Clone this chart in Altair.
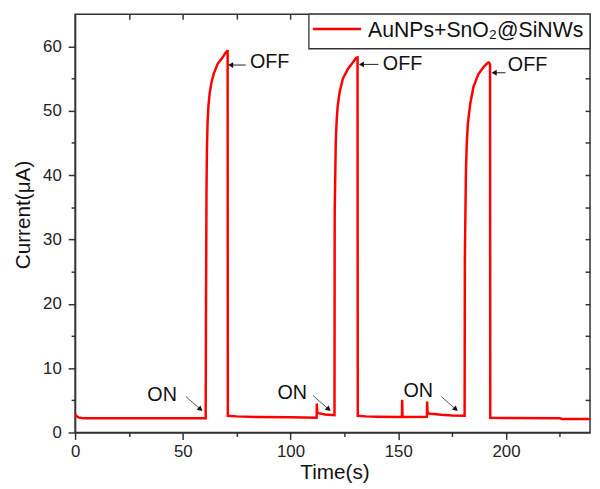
import altair as alt
import pandas as pd

# ---- data ----
time_s = [0, 0.5, 1.5, 3, 5, 30, 60.6,
          60.8, 61.0, 61.2, 61.5, 61.9, 62.5, 63.3, 64.4, 66.2, 68.5, 70.0, 70.6, 70.8,
          70.9, 75, 85, 100, 112.1,
          112.2, 112.4, 113, 116, 120.4,
          120.5, 121.0, 121.4, 121.9, 122.8, 124.3, 126.6, 128.9, 130.4, 131.1,
          131.2, 135, 140, 151.7,
          151.8, 152.0, 163.3,
          163.4, 163.6, 165, 170, 175, 180.8,
          180.9, 181.4, 181.8, 182.3, 183.4, 184.9, 187.2, 189.6, 191.4, 192.0, 192.6,
          192.7, 200, 225, 226, 239]
current_uA = [2.9, 2.6, 2.35, 2.25, 2.2, 2.2, 2.2,
              22.4, 37.8, 44.0, 48.2, 50.8, 52.8, 54.4, 55.8, 57.3, 58.3, 59.1, 59.3, 59.3,
              2.6, 2.5, 2.4, 2.35, 2.3,
              4.5, 3.1, 3.0, 2.8, 2.7,
              34.5, 45.2, 48.5, 50.8, 52.9, 55.0, 56.5, 57.5, 58.2, 58.3,
              2.6, 2.5, 2.45, 2.4,
              5.1, 2.4, 2.45,
              4.8, 3.0, 2.9, 2.75, 2.65, 2.6,
              27.0, 40.4, 45.0, 48.0, 51.1, 53.7, 55.7, 56.8, 57.4, 57.5, 57.2,
              2.3, 2.25, 2.2, 2.1, 2.1]

on_text_t = [40.4, 100.8, 159.3]
on_text_v = [5.75, 6.06, 6.5]
on_arrow_t1 = [51.4, 110.4, 169.9]
on_arrow_v1 = [5.6, 5.75, 5.6]
on_arrow_t2 = [58.2, 117.7, 176.7]
on_arrow_v2 = [3.6, 3.6, 3.6]

off_text_t = [90.3, 152.0, 210.0]
off_text_v = [57.6, 57.3, 57.1]
off_arrow_t1 = [79.2, 140.8, 199.8]
off_arrow_t2 = [72.2, 132.9, 194.5]
off_arrow_v = [57.1, 57.2, 55.9]

x_major = [0, 50, 100, 150, 200]
x_minor = [25, 75, 125, 175, 225]
x_mirror = [25, 50, 75, 100, 125, 150, 175, 200, 225]
y_major = [0, 10, 20, 30, 40, 50, 60]
y_minor = [5, 15, 25, 35, 45, 55]
y_mirror = [5, 10, 15, 20, 25, 30, 35, 40, 45, 50, 55, 60]

series_label = "AuNPs+SnO\u2082@SiNWs"
x_title = "Time(s)"
y_title = "Current(\u03bcA)"

# ---- tables ----
df = pd.DataFrame({"i": list(range(len(time_s))), "t": time_s, "I": current_uA})
on_df = pd.DataFrame({"t": on_text_t, "v": on_text_v, "lab": ["ON"] * 3})
off_df = pd.DataFrame({"t": off_text_t, "v": off_text_v, "lab": ["OFF"] * 3})
on_arr = pd.DataFrame({"t1": on_arrow_t1, "v1": on_arrow_v1, "t2": on_arrow_t2, "v2": on_arrow_v2})
off_arr = pd.DataFrame({"t1": off_arrow_t1, "t2": off_arrow_t2, "v": off_arrow_v})
one = pd.DataFrame({"k": [0]})

FONT = "Liberation Sans"
AX = "#333333"
xs = alt.Scale(domain=[0, 239], nice=False, zero=False)
ys = alt.Scale(domain=[0, 65], nice=False, zero=False)

base_axis = dict(grid=False, tickColor=AX, tickWidth=1.5, domainColor=AX, domainWidth=1.5,
                 labelFont=FONT, labelFontSize=17, labelColor="#222222", labelFlush=False,
                 labelOverlap=False)

line = alt.Chart(df).mark_line(color="#ff0000", strokeWidth=2.5).encode(
    x=alt.X("t:Q", scale=xs, axis=alt.Axis(
        orient="bottom", values=x_major, tickSize=7, labelPadding=4,
        title=x_title, titleFont=FONT, titleFontSize=21, titleFontWeight="normal",
        titleColor="#111111", titleX=263, titleY=47, titleBaseline="alphabetic",
        **base_axis)),
    y=alt.Y("I:Q", scale=ys, axis=alt.Axis(
        orient="left", values=y_major, tickSize=7, labelPadding=7,
        title=y_title, titleFont=FONT, titleFontSize=21, titleFontWeight="normal",
        titleColor="#111111", titleX=-52, titleY=203, titleBaseline="middle", titleAngle=270,
        **base_axis)),
    order="i:Q",
)

minor_axis = dict(grid=False, tickColor=AX, tickWidth=1.5, domain=False, labels=False, title=None)
minor = alt.Chart(df).mark_line(strokeOpacity=0).encode(
    x=alt.X("t:Q", scale=xs, axis=alt.Axis(orient="bottom", values=x_minor, tickSize=4, **minor_axis)),
    y=alt.Y("I:Q", scale=ys, axis=alt.Axis(orient="left", values=y_minor, tickSize=4, **minor_axis)),
    order="i:Q",
)
mirror = alt.Chart(df).mark_line(strokeOpacity=0).encode(
    x=alt.X("t:Q", scale=xs, axis=alt.Axis(orient="top", values=x_mirror, tickSize=5, offset=-5, **minor_axis)),
    y=alt.Y("I:Q", scale=ys, axis=alt.Axis(orient="right", values=y_mirror, tickSize=5, offset=-5, **minor_axis)),
    order="i:Q",
)

on_rules = alt.Chart(on_arr).mark_rule(color="#555555", strokeWidth=1).encode(
    x=alt.X("t1:Q", scale=xs, axis=None), x2="t2:Q",
    y=alt.Y("v1:Q", scale=ys, axis=None), y2="v2:Q")
on_heads = alt.Chart(on_arr).mark_point(shape="triangle-right", filled=True, size=35,
                                        color="#111111", opacity=1, angle=41).encode(
    x=alt.X("t2:Q", scale=xs, axis=None), y=alt.Y("v2:Q", scale=ys, axis=None))
off_rules = alt.Chart(off_arr).mark_rule(color="#222222", strokeWidth=1).encode(
    x=alt.X("t1:Q", scale=xs, axis=None), x2="t2:Q",
    y=alt.Y("v:Q", scale=ys, axis=None))
off_heads = alt.Chart(off_arr).mark_point(shape="triangle-left", filled=True, size=35,
                                          color="#111111", opacity=1).encode(
    x=alt.X("t2:Q", scale=xs, axis=None), y=alt.Y("v:Q", scale=ys, axis=None))

on_text = alt.Chart(on_df).mark_text(font=FONT, fontSize=20, color="#111111").encode(
    x=alt.X("t:Q", scale=xs, axis=None), y=alt.Y("v:Q", scale=ys, axis=None), text="lab:N")
off_text = alt.Chart(off_df).mark_text(font=FONT, fontSize=20, color="#111111").encode(
    x=alt.X("t:Q", scale=xs, axis=None), y=alt.Y("v:Q", scale=ys, axis=None), text="lab:N")

# ---- legend box (drawn inside the plot, top-right) ----
leg_box = alt.Chart(one).mark_rect(fill="white", stroke=AX, strokeWidth=1.3).encode(
    x=alt.value(237), x2=alt.value(522), y=alt.value(0), y2=alt.value(35))
leg_sym = alt.Chart(one).mark_rule(color="#ff0000", strokeWidth=2.5).encode(
    x=alt.value(241), x2=alt.value(290), y=alt.value(15))
leg_txt = alt.Chart(one).mark_text(font=FONT, fontSize=21.5, color="#111111", align="left",
                                   baseline="middle").encode(
    x=alt.value(297), y=alt.value(17), text=alt.value(series_label))

chart = alt.layer(
    mirror, minor, line, on_rules, on_heads, off_rules, off_heads, on_text, off_text,
    leg_box, leg_sym, leg_txt,
).resolve_axis(x="independent", y="independent").properties(
    width=522, height=424,
    autosize=alt.AutoSizeParams(type="none"),
    padding={"left": 68, "top": 3, "right": 2, "bottom": 54},
).configure_view(stroke=AX, strokeWidth=1.5)

chart.save("out.html", embed_options={"renderer": "svg", "actions": False})
